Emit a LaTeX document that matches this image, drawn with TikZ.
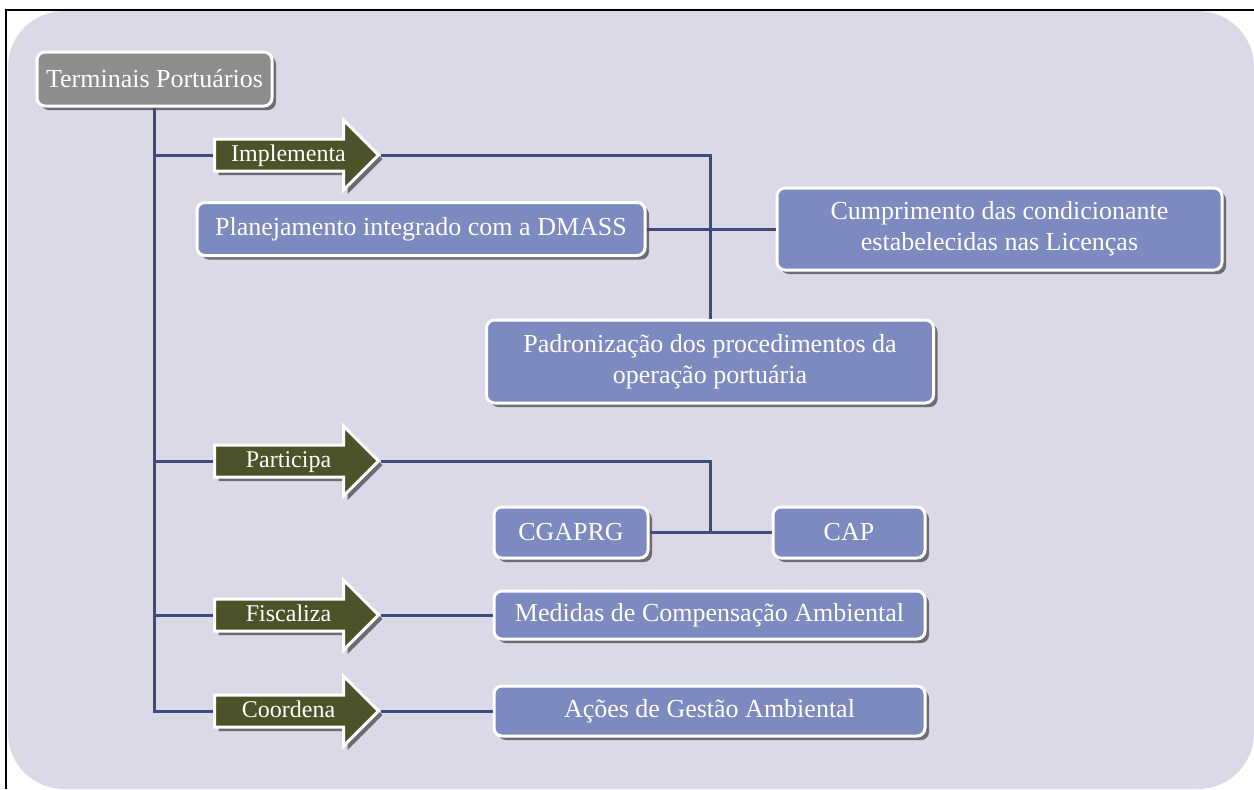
\documentclass[tikz,border=0pt]{standalone}
\usepackage{fontspec}
\setmainfont{Liberation Serif}
\usetikzlibrary{shapes.arrows,shadows}
\definecolor{bglav}{HTML}{D9D9E7}
\definecolor{boxblue}{HTML}{7D8ABF}
\definecolor{linenavy}{HTML}{3D4C7D}
\definecolor{arrolive}{HTML}{4D5228}
\definecolor{termgray}{HTML}{8D8D8D}
\tikzset{
  box/.style={draw=white, line width=1.5pt, fill=boxblue, rounded corners=4pt,
    text=white, align=center, inner sep=0pt, font=\fontsize{13}{15.5}\selectfont,
    drop shadow={shadow xshift=2pt, shadow yshift=-2pt, fill=black!75, opacity=0.7}},
  verb/.style={single arrow, draw=white, line width=1.5pt, fill=arrolive,
    text=white, font=\fontsize{12}{14.5}\selectfont, text height=9pt, text depth=2.5pt,
    inner ysep=1.5pt, inner xsep=2pt, single arrow head extend=9.5pt,
    minimum height=82pt, anchor=tail,
    drop shadow={shadow xshift=2pt, shadow yshift=-2pt, fill=black!75, opacity=0.7}},
  conn/.style={linenavy, line width=1.5pt},
}
\begin{document}
\begin{tikzpicture}[x=0.5pt, y=-0.5pt]
  \useasboundingbox (0,0) rectangle (1254,789);
  \fill[bglav, rounded corners=28pt] (8,11) rectangle (1254,789);
  \draw[black, line width=0.8pt] (6,789) -- (6,10) -- (1254,10);

  \node[box, fill=termgray, minimum width=117.5pt, minimum height=27pt] (term) at (154.5,79) {Terminais Portuários};
  \node[box, minimum width=224pt, minimum height=26.5pt] (plan) at (421,229) {Planejamento integrado com a DMASS};
  \node[box, minimum width=222.5pt, minimum height=41pt] (cump) at (999.5,229) {Cumprimento das condicionante\\estabelecidas nas Licenças};
  \node[box, minimum width=223.5pt, minimum height=41.5pt] (padr) at (710,361.5) {Padronização dos procedimentos da\\operação portuária};
  \node[box, minimum width=77pt, minimum height=25.5pt] (cga) at (571,532.5) {CGAPRG};
  \node[box, minimum width=76pt, minimum height=25.5pt] (cap) at (849,532.5) {CAP};
  \node[box, minimum width=215.5pt, minimum height=24pt] (med) at (709.5,615) {Medidas de Compensação Ambiental};
  \node[box, minimum width=215.5pt, minimum height=25pt] (acoes) at (709.5,711) {Ações de Gestão Ambiental};

  \node[verb] (impl) at (213,155) {Implementa};
  \node[verb] (part) at (213,461) {Participa};
  \node[verb] (fisc) at (213,615) {Fiscaliza};
  \node[verb] (coor) at (213,711) {Coordena};
  \coordinate (pjoin) at (710,532.5);

  \begin{scope}[conn]
    \draw (term.south) |- (coor.tail);
    \draw (term.south |- impl.tail) to (impl.tail);
    \draw (term.south |- part.tail) to (part.tail);
    \draw (term.south |- fisc.tail) to (fisc.tail);
    \draw (impl.tip) -| (padr.north);
    \draw (plan.east) to (cump.west);
    \draw (part.tip) -| (pjoin);
    \draw (cga.east) to (cap.west);
    \draw (fisc.tip) to (med.west);
    \draw (coor.tip) to (acoes.west);
  \end{scope}
\end{tikzpicture}
\end{document}
